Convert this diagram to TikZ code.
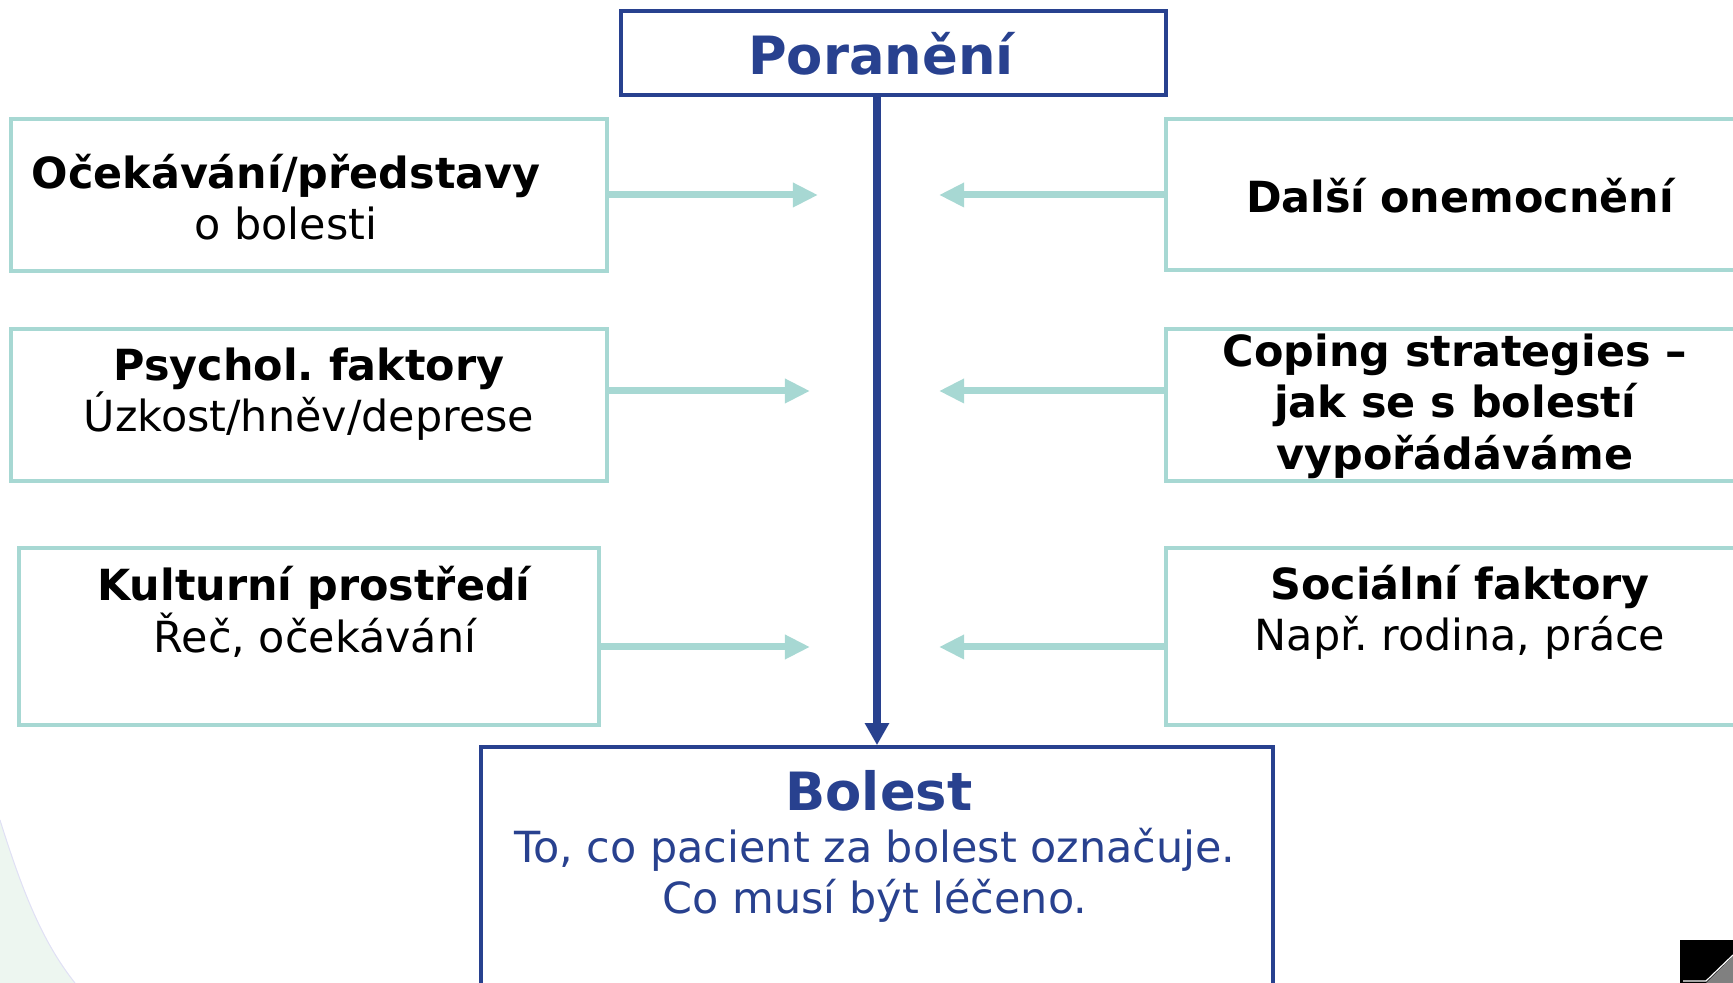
\documentclass[tikz,border=0pt]{standalone}
\usepackage{fontspec}
\setmainfont{DejaVu Sans}
\frenchspacing
\usetikzlibrary{arrows.meta,positioning}
\definecolor{navy}{HTML}{28418F}
\definecolor{mint}{HTML}{A7D8D3}
\definecolor{mintbg}{HTML}{EDF6F0}
\definecolor{lavedge}{HTML}{E0E0F5}

\tikzset{
  factorbox/.style={draw=mint, line width=0.035cm, inner sep=0pt},
  headbox/.style={draw=navy, line width=0.035cm, inner sep=0pt},
  bodytext/.style={align=center, font=\fontsize{12.2}{14.6}\selectfont, inner sep=0pt},
  headtext/.style={font=\fontsize{15}{18}\selectfont\bfseries, text=navy, inner sep=0pt},
  influence/.style={draw=mint, line width=0.07cm, -{Triangle[length=0.25cm,width=0.23cm]}},
  flow/.style={draw=navy, line width=0.08cm, -{Triangle[length=0.22cm,width=0.23cm]}},
}

\begin{document}
\begin{tikzpicture}[x=0.01cm, y=-0.01cm]
  \clip (0,0) rectangle (1733,983);
  % Slide corners
  \fill[mintbg] (0,820) .. controls (25,900) and (45,945) .. (75,983) -- (0,983) -- cycle;
  \draw[lavedge, line width=0.01cm] (0,820) .. controls (25,900) and (45,945) .. (75,983);
  \fill[black] (1680,940) rectangle (1733,983);
  \fill[gray] (1706,983) -- (1733,956) -- (1733,983) -- cycle;
  \draw[white, line width=0.012cm] (1683,981) -- (1706,981) -- (1733,955);

  % Define nodes
  \node[headbox, minimum width=5.45cm, minimum height=0.84cm] (por) at (893.5,53) {};
  \node[headtext] (por-t) at (881,54) {Poranění};

  \node[factorbox, minimum width=5.96cm, minimum height=1.52cm] (l1) at (309,195) {};
  \node[factorbox, minimum width=5.96cm, minimum height=1.52cm] (l2) at (309,405) {};
  \node[factorbox, minimum width=5.80cm, minimum height=1.77cm] (l3) at (309,636.5) {};
  \node[factorbox, minimum width=6cm, minimum height=1.51cm] (r1) at (1466,194.5) {};
  \node[factorbox, minimum width=6cm, minimum height=1.52cm] (r2) at (1466,405) {};
  \node[factorbox, minimum width=6cm, minimum height=1.77cm] (r3) at (1466,636.5) {};
  \node[headbox, minimum width=7.92cm, minimum height=2.63cm] (bol) at (877,878.5) {};

  \node[bodytext] (l1-t) at (286,197) {\textbf{Očekávání/představy}\\o bolesti};
  \node[bodytext] (l2-t) at (309,394) {\textbf{Psychol. faktory}\\Úzkost/hněv/deprese};
  \node[bodytext] (l3-t) at (315,612) {\textbf{Kulturní prostředí}\\Řeč, očekávání};
  \node[bodytext] (r1-t) at (1461,196) {\textbf{Další onemocnění}};
  \node[bodytext, font=\fontsize{12.2}{14.6}\selectfont\bfseries] (r2-t) at (1455,406)
    {Coping strategies –\\jak se s bolestí\\vypořádáváme};
  \node[bodytext] (r3-t) at (1460,612) {\textbf{Sociální faktory}\\Např. rodina, práce};
  \node[headtext] (bol-t) at (879,791) {Bolest};
  \node[bodytext, text=navy] (bol-x) at (875,875) {To, co pacient za bolest označuje.\\Co musí být léčeno.};

  \coordinate (l1-tip) at (818,195);
  \coordinate (l2-tip) at (810,391);
  \coordinate (l3-tip) at (810,647);
  \coordinate (r1-tip) at (939,195);
  \coordinate (r2-tip) at (939,391);
  \coordinate (r3-tip) at (939,647);

  % Connect the nodes
  \draw[flow] (bol.north |- por.south) -- (bol.north);
  \draw[influence] (l1.east |- l1-tip) -- (l1-tip);
  \draw[influence] (l2.east |- l2-tip) -- (l2-tip);
  \draw[influence] (l3.east |- l3-tip) -- (l3-tip);
  \draw[influence] (r1.west |- r1-tip) -- (r1-tip);
  \draw[influence] (r2.west |- r2-tip) -- (r2-tip);
  \draw[influence] (r3.west |- r3-tip) -- (r3-tip);
\end{tikzpicture}
\end{document}
